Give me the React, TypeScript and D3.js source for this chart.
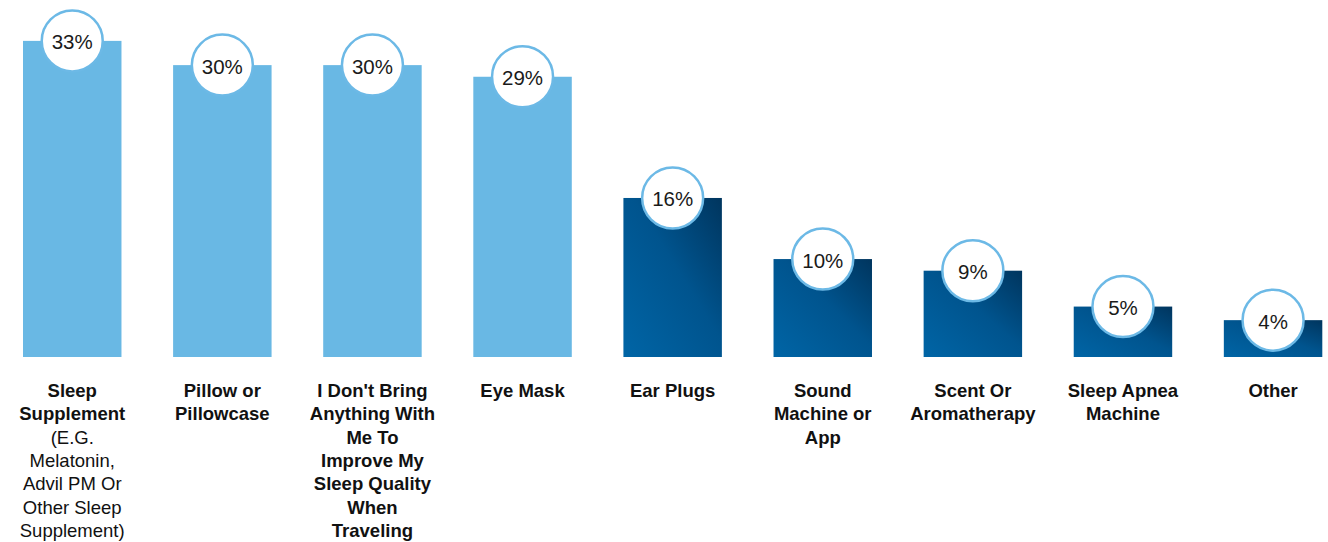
import React, { useEffect, useRef } from 'react';
import * as d3 from 'd3';

const categories = [
  'Sleep Supplement',
  'Pillow or Pillowcase',
  "I Don't Bring Anything",
  'Eye Mask',
  'Ear Plugs',
  'Sound Machine or App',
  'Scent Or Aromatherapy',
  'Sleep Apnea Machine',
  'Other',
];

// share of respondents, %
const values = [32.6, 30.1, 30.1, 28.9, 16.4, 10.1, 8.9, 5.2, 3.8];

// bold label lines per category
const labelLines = [
  ['Sleep', 'Supplement'],
  ['Pillow or', 'Pillowcase'],
  ["I Don't Bring", 'Anything With', 'Me To', 'Improve My', 'Sleep Quality', 'When', 'Traveling'],
  ['Eye Mask'],
  ['Ear Plugs'],
  ['Sound', 'Machine or', 'App'],
  ['Scent Or', 'Aromatherapy'],
  ['Sleep Apnea', 'Machine'],
  ['Other'],
];

// regular-weight continuation lines
const subLines = [
  ['(E.G.', 'Melatonin,', 'Advil PM Or', 'Other Sleep', 'Supplement)'],
  [], [], [], [], [], [], [], [],
];

const width = 1328;
const height = 542;
const baseY = 357;
const lightCount = 4;
const font = '"Liberation Sans", Arial, sans-serif';

const draw = (el: SVGSVGElement) => {
  const svg = d3.select(el);
  svg.selectAll('*').remove();

  const defs = svg.append('defs');
  const grad = defs
    .append('linearGradient')
    .attr('id', 'darkBar')
    .attr('x1', 0)
    .attr('y1', 1)
    .attr('x2', 1)
    .attr('y2', 0);
  grad.append('stop').attr('offset', '0%').attr('stop-color', '#0065a6');
  grad.append('stop').attr('offset', '55%').attr('stop-color', '#00548e');
  grad.append('stop').attr('offset', '100%').attr('stop-color', '#00355e');

  const x = d3
    .scaleBand<string>()
    .domain(categories)
    .range([23, 1322.3])
    .paddingInner(0.344)
    .paddingOuter(0);

  const y = d3.scaleLinear().domain([0, 33]).range([baseY, baseY - 320]);

  const rows = categories.map((c, i) => ({ c, v: values[i], i }));

  const g = svg.append('g');

  g.selectAll('rect.bar')
    .data(rows)
    .enter()
    .append('rect')
    .attr('class', 'bar')
    .attr('x', (d) => x(d.c) || 0)
    .attr('y', (d) => y(d.v))
    .attr('width', x.bandwidth())
    .attr('height', (d) => baseY - y(d.v))
    .attr('fill', (d) => (d.i < lightCount ? '#69b8e4' : 'url(#darkBar)'));

  const cx = (d: { c: string }) => (x(d.c) || 0) + x.bandwidth() / 2;

  g.selectAll('circle.bubble')
    .data(rows)
    .enter()
    .append('circle')
    .attr('class', 'bubble')
    .attr('cx', cx)
    .attr('cy', (d) => y(d.v))
    .attr('r', 30.5)
    .attr('fill', '#ffffff')
    .attr('stroke', '#6cb9e6')
    .attr('stroke-width', 2.5);

  g.selectAll('text.pct')
    .data(rows)
    .enter()
    .append('text')
    .attr('class', 'pct')
    .attr('x', cx)
    .attr('y', (d) => y(d.v) + 1)
    .attr('text-anchor', 'middle')
    .attr('dominant-baseline', 'central')
    .attr('font-family', font)
    .attr('font-size', 20.5)
    .attr('fill', '#1a1a1a')
    .text((d) => `${Math.round(d.v)}%`);

  const lineH = 23.3;
  const labels = g
    .selectAll('text.cat')
    .data(rows)
    .enter()
    .append('text')
    .attr('class', 'cat')
    .attr('text-anchor', 'middle')
    .attr('font-family', font)
    .attr('font-size', 18.5)
    .attr('fill', '#111111');

  labels.each(function (d) {
    const t = d3.select(this);
    const bold = labelLines[d.i];
    const reg = subLines[d.i];
    const all = [
      ...bold.map((s) => ({ s, b: true })),
      ...reg.map((s) => ({ s, b: false })),
    ];
    all.forEach((ln, k) => {
      t.append('tspan')
        .attr('x', cx(d))
        .attr('y', 397 + k * lineH)
        .attr('font-weight', ln.b ? 'bold' : 'normal')
        .text(ln.s);
    });
  });
};

const App: React.FC = () => {
  const ref = useRef<SVGSVGElement>(null);
  useEffect(() => {
    if (ref.current) draw(ref.current);
  }, []);
  return (
    <svg
      ref={ref}
      width={width}
      height={height}
      style={{ position: 'absolute', left: 0, top: 0, background: '#ffffff' }}
    />
  );
};

export default App;
